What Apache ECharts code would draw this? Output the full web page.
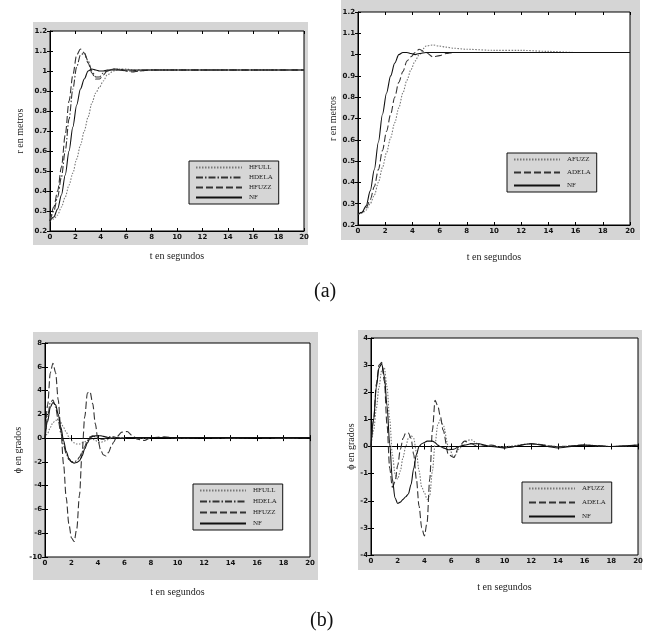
<!DOCTYPE html>
<html>
<head>
<meta charset="utf-8">
<script src="https://cdn.jsdelivr.net/npm/echarts@6/dist/echarts.min.js"></script>
<style>
  html, body { margin: 0; padding: 0; background: #fff; }
  #chart { width: 655px; height: 633px; }
</style>
</head>
<body>
<div id="chart"></div>
<script>
// time samples (s)
const tTop = [0, 0.3, 0.6, 0.9, 1.2, 1.5, 1.8, 2.1, 2.4, 2.7, 3.0, 3.3, 3.6, 3.9, 4.2, 4.5, 5, 5.5, 6, 6.5, 7, 8, 10, 12, 14, 16, 18, 20];
const tBot = [0, 0.2, 0.4, 0.6, 0.8, 1.0, 1.2, 1.4, 1.6, 1.8, 2.0, 2.2, 2.4, 2.6, 2.8, 3.0, 3.2, 3.4, 3.6, 3.8, 4.0, 4.2, 4.4, 4.6, 4.8, 5.0, 5.2, 5.4, 5.8, 6.2, 6.6, 7.0, 7.5, 8, 9, 10, 12, 14, 16, 18, 20];

// (a) left: r en metros
const hfullR = [0.25, 0.26, 0.28, 0.32, 0.37, 0.43, 0.49, 0.56, 0.63, 0.7, 0.77, 0.84, 0.89, 0.92, 0.95, 0.98, 1.0, 1.01, 1.01, 1.005, 1.0, 1.005, 1.005, 1.005, 1.005, 1.005, 1.005, 1.005];
const hdelaR = [0.25, 0.3, 0.37, 0.47, 0.6, 0.76, 0.91, 1.02, 1.08, 1.09, 1.05, 1.0, 0.97, 0.97, 0.99, 1.0, 1.01, 1.005, 1.0, 1.0, 1.005, 1.005, 1.005, 1.005, 1.005, 1.005, 1.005, 1.005];
const hfuzzR = [0.25, 0.32, 0.4, 0.52, 0.68, 0.85, 0.98, 1.08, 1.11, 1.09, 1.04, 0.99, 0.96, 0.96, 0.98, 1.0, 1.01, 1.01, 1.0, 0.995, 1.0, 1.005, 1.005, 1.005, 1.005, 1.005, 1.005, 1.005];
const nfRL   = [0.25, 0.27, 0.31, 0.38, 0.48, 0.6, 0.72, 0.83, 0.91, 0.96, 1.0, 1.01, 1.005, 1.0, 1.0, 1.005, 1.005, 1.005, 1.005, 1.005, 1.005, 1.005, 1.005, 1.005, 1.005, 1.005, 1.005, 1.005];

// (a) right
const afuzzR = [0.25, 0.255, 0.27, 0.3, 0.34, 0.4, 0.47, 0.54, 0.61, 0.68, 0.75, 0.82, 0.88, 0.93, 0.97, 1.0, 1.04, 1.045, 1.04, 1.035, 1.03, 1.025, 1.02, 1.02, 1.015, 1.01, 1.01, 1.01];
const adelaR = [0.25, 0.26, 0.28, 0.32, 0.38, 0.46, 0.55, 0.64, 0.72, 0.8, 0.87, 0.92, 0.97, 0.99, 1.01, 1.025, 1.01, 0.99, 0.995, 1.005, 1.01, 1.01, 1.01, 1.01, 1.01, 1.01, 1.01, 1.01];
const nfRR   = [0.25, 0.26, 0.29, 0.36, 0.46, 0.59, 0.72, 0.82, 0.9, 0.96, 1.0, 1.01, 1.01, 1.005, 1.0, 1.005, 1.01, 1.01, 1.01, 1.01, 1.01, 1.01, 1.01, 1.01, 1.01, 1.01, 1.01, 1.01];

// (b) left: phi en grados
const hfullPhi = [0, 0.4, 0.9, 1.3, 1.5, 1.5, 1.3, 0.9, 0.5, 0.1, -0.2, -0.4, -0.5, -0.5, -0.4, -0.3, -0.2, -0.1, -0.1, -0.2, -0.3, -0.35, -0.3, -0.2, -0.1, 0, 0.05, 0.05, 0, 0.05, 0.05, 0.05, 0, 0.05, 0.05, 0.05, 0.05, 0.05, 0.05, 0.05, 0.05];
const hdelaPhi = [0, 1.8, 3.0, 3.2, 2.6, 1.5, 0.4, -0.6, -1.3, -1.8, -2.0, -2.0, -1.9, -1.6, -1.2, -0.7, -0.2, 0.1, 0.2, 0.1, 0, -0.1, -0.1, 0, 0.1, 0.1, 0.1, 0.05, 0, 0.05, 0.05, 0, 0.05, 0.05, 0.05, 0, 0.05, 0, 0.05, 0, 0.05];
const hfuzzPhi = [0, 2.8, 5.5, 6.3, 5.5, 3.2, 0.6, -2.2, -5.0, -7.2, -8.4, -8.7, -7.6, -4.8, -1.2, 1.8, 3.8, 3.9, 2.9, 1.2, -0.2, -1.0, -1.4, -1.5, -1.2, -0.7, -0.3, 0.1, 0.5, 0.55, 0.2, -0.1, -0.2, 0.05, 0.1, 0, 0.05, 0, 0.05, 0, 0.05];
const nfPhiL   = [0, 1.4, 2.6, 3.0, 2.8, 2.0, 0.9, -0.2, -1.1, -1.7, -2.0, -2.1, -2.05, -1.9, -1.5, -0.9, -0.4, 0, 0.15, 0.2, 0.2, 0.2, 0.15, 0.1, 0.05, 0, 0, 0, 0, 0.05, 0.05, 0.05, 0.05, 0.05, 0.05, 0.05, 0.05, 0.05, 0.05, 0.05, 0.05];

// (b) right
const afuzzPhi = [0, 0.6, 1.4, 2.2, 2.8, 2.9, 2.2, 1.0, -0.3, -1.0, -1.2, -0.9, -0.4, 0, 0.3, 0.4, 0.3, -0.2, -0.9, -1.5, -1.7, -1.95, -1.8, -0.9, 0.1, 0.8, 1.0, 0.8, 0, -0.4, -0.1, 0.2, 0.25, 0.1, 0, 0, 0.1, 0, 0.05, 0, 0.05];
const adelaPhi = [0, 1.0, 2.3, 3.0, 3.1, 2.4, 0.8, -0.8, -1.5, -1.3, -0.7, -0.1, 0.3, 0.5, 0.5, 0.3, -0.3, -1.2, -2.2, -3.0, -3.3, -2.8, -1.2, 0.6, 1.7, 1.5, 1.1, 0.6, -0.3, -0.4, 0, 0.2, 0.1, 0, 0.05, -0.05, 0.1, 0, 0.05, 0, 0.05];
const nfPhiR   = [0, 1.0, 2.2, 2.9, 3.05, 2.6, 1.5, 0.1, -1.2, -1.9, -2.1, -2.05, -1.95, -1.85, -1.75, -1.4, -0.8, -0.3, 0, 0.1, 0.15, 0.2, 0.2, 0.2, 0.15, 0.05, 0, -0.05, -0.12, -0.1, 0, 0.05, 0.1, 0.1, 0, -0.05, 0.1, -0.05, 0.05, 0, 0.05];

const legendTL = ['HFULL', 'HDELA', 'HFUZZ', 'NF'];
const legendTR = ['AFUZZ', 'ADELA', 'NF'];

const chart = echarts.init(document.getElementById('chart'));

const SERIF = 'Liberation Serif, DejaVu Serif, serif';
const styles = {
  solid:   { color: '#111', type: 'solid', width: 1.1 },
  dashed:  { color: '#333', type: [7, 3], width: 1.1 },
  dashdot: { color: '#333', type: [7, 2, 1.5, 2], width: 1.1 },
  dotted:  { color: '#777', type: [1.5, 1.5], width: 1.1 }
};

function pairs(t, v) { return t.map((x, i) => [x, v[i]]); }

function line(name, grid, t, v, st) {
  return {
    name: name, type: 'line', xAxisIndex: grid, yAxisIndex: grid,
    data: pairs(t, v), symbol: 'none', smooth: 0.3, smoothMonotone: 'x',
    lineStyle: styles[st], itemStyle: { color: styles[st].color },
    animation: false
  };
}

const grids = [
  { left: 50, top: 31, width: 254, height: 200 },
  { left: 358, top: 12, width: 272, height: 213 },
  { left: 45, top: 343, width: 265, height: 214 },
  { left: 371, top: 338, width: 267, height: 217 }
];
const yRanges = [[0.2, 1.2, 0.1], [0.2, 1.2, 0.1], [-10, 8, 2], [-4, 4, 1]];
const yNames = ['r en metros', 'r en metros', 'ϕ en grados', 'ϕ en grados'];
const yGaps = [25, 15, 22, 15];
const xGaps = [20, 27, 30, 27];

const tickLabel = { fontSize: 7, color: '#111', fontWeight: 'bold', fontFamily: 'DejaVu Sans, sans-serif', margin: 3 };

const xAxis = [], yAxis = [];
grids.forEach((g, i) => {
  xAxis.push({
    type: 'value', gridIndex: i, min: 0, max: 20, interval: 2,
    name: 't en segundos', nameLocation: 'middle', nameGap: xGaps[i],
    nameTextStyle: { fontFamily: SERIF, fontSize: 10, color: '#222' },
    axisLine: { lineStyle: { color: '#000', width: 1 } },
    axisTick: { inside: true, length: 3, lineStyle: { color: '#000' } },
    axisLabel: tickLabel, splitLine: { show: false }
  });
  yAxis.push({
    type: 'value', gridIndex: i, min: yRanges[i][0], max: yRanges[i][1], interval: yRanges[i][2],
    name: yNames[i], nameLocation: 'middle', nameGap: yGaps[i],
    nameTextStyle: { fontFamily: SERIF, fontSize: 10, color: '#222' },
    axisLine: { lineStyle: { color: '#000', width: 1 } },
    axisTick: { inside: true, length: 3, lineStyle: { color: '#000' } },
    axisLabel: Object.assign({ formatter: v => String(parseFloat(v.toFixed(1))) }, tickLabel),
    splitLine: { show: false }
  });
});
// mirrored ticks on top and right, like the MATLAB box
grids.forEach((g, i) => {
  xAxis.push({
    type: 'value', gridIndex: i, position: 'top', min: 0, max: 20, interval: 2,
    axisLine: { show: false }, axisLabel: { show: false }, splitLine: { show: false },
    axisTick: { inside: true, length: 3, lineStyle: { color: '#000' } }
  });
  yAxis.push({
    type: 'value', gridIndex: i, position: 'right', min: yRanges[i][0], max: yRanges[i][1], interval: yRanges[i][2],
    axisLine: { show: false }, axisLabel: { show: false }, splitLine: { show: false },
    axisTick: { inside: true, length: 3, lineStyle: { color: '#000' } }
  });
});

const series = [
  line('HFULL', 0, tTop, hfullR, 'dotted'),
  line('HDELA', 0, tTop, hdelaR, 'dashdot'),
  line('HFUZZ', 0, tTop, hfuzzR, 'dashed'),
  line('NF', 0, tTop, nfRL, 'solid'),
  line('AFUZZ', 1, tTop, afuzzR, 'dotted'),
  line('ADELA', 1, tTop, adelaR, 'dashed'),
  line('NF', 1, tTop, nfRR, 'solid'),
  line('HFULL', 2, tBot, hfullPhi, 'dotted'),
  line('HDELA', 2, tBot, hdelaPhi, 'dashdot'),
  line('HFUZZ', 2, tBot, hfuzzPhi, 'dashed'),
  line('NF', 2, tBot, nfPhiL, 'solid'),
  line('AFUZZ', 3, tBot, afuzzPhi, 'dotted'),
  line('ADELA', 3, tBot, adelaPhi, 'dashed'),
  line('NF', 3, tBot, nfPhiR, 'solid')
];

function legendAt(names, left, top, gap) {
  return {
    data: names, left: left, top: top, orient: 'vertical',
    backgroundColor: '#d6d6d6', borderColor: '#111', borderWidth: 1,
    padding: [3, 6, 3, 6], itemGap: gap, itemWidth: 46, itemHeight: 7,
    selectedMode: false,
    itemStyle: { color: 'rgba(0,0,0,0)', borderColor: 'rgba(0,0,0,0)', borderWidth: 0, opacity: 0 },
    textStyle: { fontSize: 7, fontFamily: SERIF, color: '#222', padding: [0, 0, 0, 2] }
  };
}

const frames = [[33, 22, 275, 223], [341, 0, 299, 240], [33, 332, 285, 248], [358, 330, 284, 240]];

chart.setOption({
  backgroundColor: '#fff',
  animation: false,
  title: [
    { text: '(a)', left: 309, top: 277, textStyle: { fontFamily: SERIF, fontSize: 20, fontWeight: 'normal', color: '#111' } },
    { text: '(b)', left: 305, top: 606, textStyle: { fontFamily: SERIF, fontSize: 20, fontWeight: 'normal', color: '#111' } }
  ],
  graphic: frames.map(f => ({
    type: 'rect', z: -10, silent: true,
    shape: { x: f[0], y: f[1], width: f[2], height: f[3] },
    style: { fill: '#d5d5d5' }
  })),
  grid: grids.map(g => Object.assign({ show: true, backgroundColor: '#fff', borderColor: '#000', borderWidth: 1 }, g)),
  legend: [
    legendAt(legendTL, 189, 161, 3),
    legendAt(legendTR, 507, 153, 6),
    legendAt(legendTL, 193, 484, 4),
    legendAt(legendTR, 522, 482, 7)
  ],
  xAxis: xAxis,
  yAxis: yAxis,
  series: series
});
</script>
</body>
</html>
